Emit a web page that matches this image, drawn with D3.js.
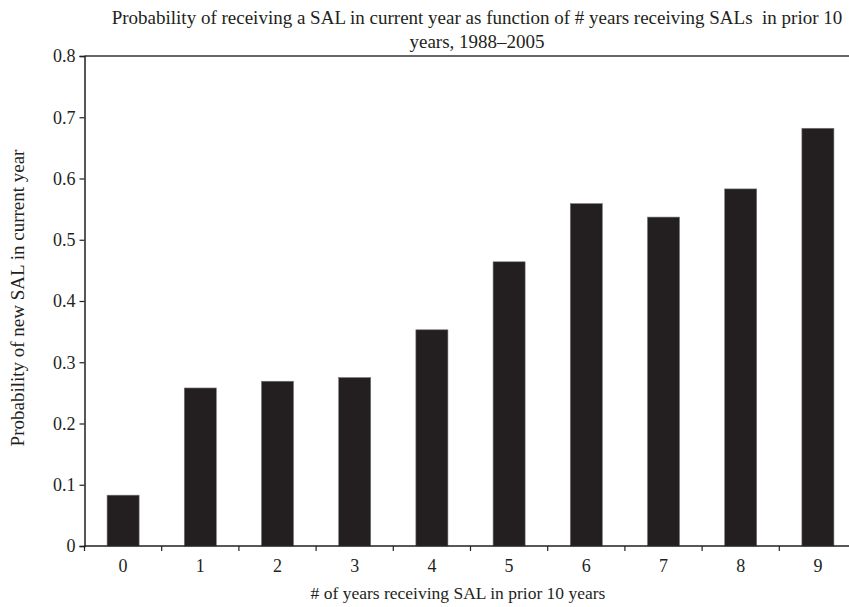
<!DOCTYPE html>
<html>
<head>
<meta charset="utf-8">
<script src="https://cdn.jsdelivr.net/npm/d3@7"></script>
<style>
  body { margin: 0; background: #fff; }
  text { font-family: 'Liberation Serif', 'DejaVu Serif', serif; fill: #231f20; }
</style>
</head>
<body>
<div id="graphContainer"></div>
<script>
// data
const categories = ['0', '1', '2', '3', '4', '5', '6', '7', '8', '9']
const probs = [0.083, 0.258, 0.269, 0.275, 0.353, 0.464, 0.559, 0.537, 0.583, 0.682]
const yTicks = [0, 0.1, 0.2, 0.3, 0.4, 0.5, 0.6, 0.7, 0.8]
const titleLines = [
  'Probability of receiving a SAL in current year as function of # years receiving SALs  in prior 10',
  'years, 1988\u20132005'
]

let svgWidth = 849,
  svgHeight = 607
let margin = { top: 56, left: 84.5, bottom: 61 }
let height = svgHeight - margin.top - margin.bottom
let step = 77.2
let width = step * categories.length

let svg = d3
  .select('#graphContainer')
  .append('svg')
  .attr('width', svgWidth)
  .attr('height', svgHeight)

let g = svg.append('g').attr('transform', 'translate(' + margin.left + ',' + margin.top + ')')

let x = d3
  .scaleBand()
  .domain(categories)
  .range([0, width])
  .paddingInner(0.585)
  .paddingOuter(0.2925)

let y = d3.scaleLinear().domain([0, 0.8]).range([height, 0])

// top frame line
g.append('line')
  .attr('x1', 0)
  .attr('x2', svgWidth)
  .attr('y1', y(0.8))
  .attr('y2', y(0.8))
  .attr('stroke', '#333')
  .attr('stroke-width', 1.5)

// bars
g.selectAll('rect.bar')
  .data(probs)
  .enter()
  .append('rect')
  .attr('class', 'bar')
  .attr('x', (d, i) => x(categories[i]))
  .attr('width', x.bandwidth())
  .attr('y', (d) => y(d))
  .attr('height', (d) => y(0) - y(d))
  .attr('fill', '#231f20')
  .attr('stroke', '#777')
  .attr('stroke-width', 0.6)

// y axis
let yAxis = d3
  .axisLeft(y)
  .tickValues(yTicks)
  .tickFormat((d) => (d === 0 ? '0' : d3.format('.1f')(d)))
  .tickSize(5)
  .tickPadding(4)

g.append('g')
  .attr('class', 'y-axis')
  .call(yAxis)
  .call((a) => a.select('.domain').attr('stroke', '#231f20').attr('stroke-width', 1.5))
  .call((a) => a.selectAll('.tick line').attr('stroke', '#231f20').attr('stroke-width', 1.2))
  .call((a) =>
    a.selectAll('.tick text').style('font-size', '18px').style('font-family', 'Liberation Serif').style('fill', '#231f20')
  )

// x axis: ticks at the slot boundaries, labels in the middle
let xb = d3.scaleLinear().domain([0, categories.length]).range([0, width])
let xAxisG = g.append('g').attr('class', 'x-axis').attr('transform', 'translate(0,' + height + ')')

xAxisG
  .append('line')
  .attr('x1', 0)
  .attr('x2', svgWidth)
  .attr('stroke', '#231f20')
  .attr('stroke-width', 1.5)

xAxisG
  .selectAll('line.tick')
  .data(d3.range(categories.length + 1))
  .enter()
  .append('line')
  .attr('class', 'tick')
  .attr('x1', (d) => xb(d))
  .attr('x2', (d) => xb(d))
  .attr('y1', 0)
  .attr('y2', 5)
  .attr('stroke', '#231f20')
  .attr('stroke-width', 1.2)

xAxisG
  .selectAll('text.lbl')
  .data(categories)
  .enter()
  .append('text')
  .attr('class', 'lbl')
  .attr('x', (d) => x(d) + x.bandwidth() / 2)
  .attr('y', 26)
  .attr('text-anchor', 'middle')
  .style('font-size', '18px')
  .text((d) => d)

// axis titles
svg
  .append('text')
  .attr('x', 458)
  .attr('y', 599)
  .attr('text-anchor', 'middle')
  .style('font-size', '17.5px')
  .text('# of years receiving SAL in prior 10 years')

svg
  .append('text')
  .attr('transform', 'translate(24,298) rotate(-90)')
  .attr('text-anchor', 'middle')
  .style('font-size', '19px')
  .text('Probability of new SAL in current year')

// chart title
svg
  .selectAll('text.title')
  .data(titleLines)
  .enter()
  .append('text')
  .attr('class', 'title')
  .attr('x', 477)
  .attr('y', (d, i) => 24 + i * 24)
  .attr('text-anchor', 'middle')
  .style('font-size', '19px')
  .style('white-space', 'pre')
  .text((d) => d)
</script>
</body>
</html>
